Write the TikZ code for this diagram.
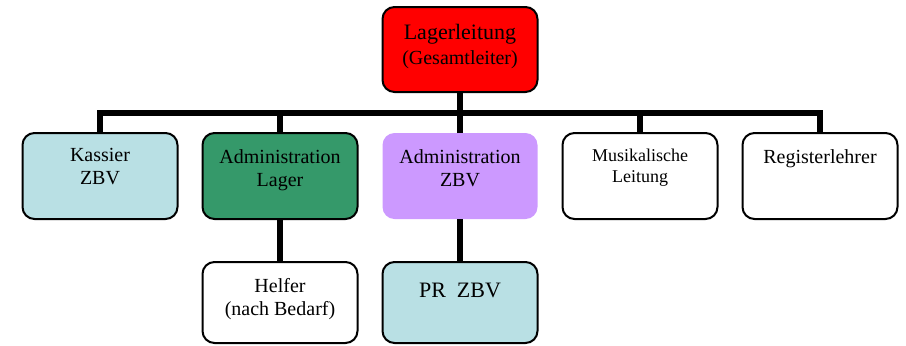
\documentclass[tikz,border=0pt]{standalone}
\usepackage{fontspec}
\setmainfont{Liberation Serif}
\usetikzlibrary{positioning,calc}
\definecolor{leitrot}{HTML}{FF0000}
\definecolor{hellblau}{HTML}{B9E0E4}
\definecolor{lagergruen}{HTML}{35996A}
\definecolor{zbvlila}{HTML}{CC99FF}

\begin{document}
\begin{tikzpicture}[
	box/.style={draw, line width=1pt, rounded corners=6pt, minimum width=77.5pt, minimum height=43pt, inner sep=0pt, outer sep=0pt},
	txt/.style={anchor=north, align=center, inner sep=0pt, yshift=-8pt, font=\fontsize{10}{11.5}\selectfont},
	conn/.style={line width=3pt},
	node distance=20.5pt and 12.5pt
]
	\useasboundingbox (0,0) rectangle (453pt,-172.5pt);

	\node[box, fill=leitrot, minimum height=42.5pt, label={[txt, yshift=-0.5pt, font=\fontsize{11}{12.5}\selectfont]north:Lagerleitung\\{\fontsize{10}{12}\selectfont(Gesamtleiter)}}] (leitung) at (230pt,-24.75pt) {};

	\node[box, draw=none, fill=zbvlila, below=of leitung, label={[txt]north:Administration\\ZBV}] (adminzbv) {};
	\node[box, fill=lagergruen, left=of adminzbv, label={[txt]north:Administration\\Lager}] (adminlager) {};
	\node[box, fill=hellblau, left=of adminlager, label={[txt, yshift=0.5pt]north:Kassier\\ZBV}] (kassier) {};
	\node[box, right=of adminzbv, label={[txt, font=\fontsize{9}{10.5}\selectfont]north:Musikalische\\Leitung}] (musik) {};
	\node[box, right=of musik, label={[txt]north:Registerlehrer}] (register) {};

	\node[box, minimum height=40.5pt, below=21.5pt of adminlager, label={[txt]north:Helfer\\(nach Bedarf)}] (helfer) {};
	\node[box, fill=hellblau, minimum height=40.5pt, below=21.5pt of adminzbv, label={[txt, yshift=-2.5pt, font=\fontsize{11}{12.5}\selectfont]north:PR~~ZBV}] (przbv) {};

	\coordinate (bar) at ($(leitung.south)!0.5!(adminzbv.north)$);

	\draw[conn] (leitung.south) -- (bar);
	\draw[conn] (kassier.north) |- (register.north |- bar) -- (register.north);
	\foreach \n in {adminlager,adminzbv,musik}
		\draw[conn] (\n.north) -- (\n.north |- bar);
	\draw[conn] (adminlager.south) -- (helfer.north);
	\draw[conn] (adminzbv.south) -- (przbv.north);
\end{tikzpicture}
\end{document}
